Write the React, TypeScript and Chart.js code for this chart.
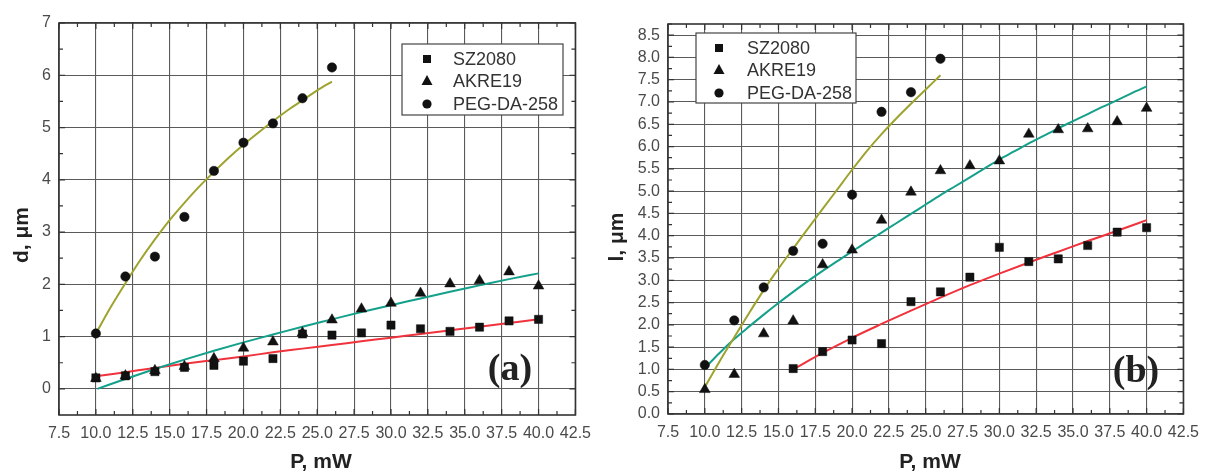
import React, { useEffect, useRef } from 'react';
import { Chart, registerables } from 'chart.js';
Chart.register(...registerables);

// ---------- Panel (a): d, µm ----------
const xEven = [10, 12, 14, 16, 18, 20, 22, 24, 26, 28, 30, 32, 34, 36, 38, 40];
const dSZ2080 = [0.21, 0.25, 0.33, 0.41, 0.45, 0.53, 0.58, 1.05, 1.03, 1.07, 1.22, 1.15, 1.1, 1.18, 1.3, 1.33];
const dAKRE19 = [0.2, 0.25, 0.35, 0.43, 0.58, 0.78, 0.9, 1.07, 1.32, 1.53, 1.64, 1.83, 2.01, 2.07, 2.24, 1.97];
const xPEG = [10, 12, 14, 16, 18, 20, 22, 24, 26];
const dPEG = [1.06, 2.15, 2.53, 3.29, 4.17, 4.71, 5.08, 5.56, 6.15];

const fitXa1 = [10, 11, 12, 13, 14, 15, 16, 17, 18, 19, 20, 21, 22, 23, 24, 25, 26];
const dFitPEG = [1.06, 1.56, 2.02, 2.46, 2.86, 3.23, 3.56, 3.87, 4.15, 4.42, 4.67, 4.9, 5.12, 5.33, 5.52, 5.71, 5.88];
const fitXa2 = [10.1, 12, 14, 16, 18, 20, 22, 24, 26, 28, 30, 32, 34, 36, 38, 40];
const dFitAKRE = [0.0, 0.19, 0.38, 0.56, 0.73, 0.89, 1.04, 1.19, 1.33, 1.47, 1.6, 1.73, 1.86, 1.98, 2.1, 2.21];
const dFitSZ = [0.24, 0.32, 0.4, 0.48, 0.55, 0.62, 0.7, 0.77, 0.84, 0.91, 0.98, 1.05, 1.12, 1.19, 1.26, 1.33];

// ---------- Panel (b): l, µm ----------
const xSZb = [16, 18, 20, 22, 24, 26, 28, 30, 32, 34, 36, 38, 40];
const lSZ2080 = [1.02, 1.4, 1.66, 1.58, 2.52, 2.74, 3.07, 3.74, 3.42, 3.48, 3.78, 4.08, 4.18];
const lAKRE19 = [0.55, 0.89, 1.8, 2.09, 3.35, 3.68, 4.35, 4.98, 5.46, 5.57, 5.68, 6.28, 6.38, 6.4, 6.56, 6.86];
const lPEG = [1.1, 2.1, 2.84, 3.66, 3.82, 4.92, 6.78, 7.22, 7.97];

const fitXb1 = [10, 11, 12, 13, 14, 15, 16, 17, 18, 19, 20, 21, 22, 23, 24, 25, 26];
const lFitPEG = [0.6, 1.18, 1.72, 2.26, 2.78, 3.26, 3.71, 4.16, 4.6, 5.04, 5.48, 5.9, 6.28, 6.63, 6.96, 7.28, 7.6];
const fitXb2 = [10, 11, 12, 13, 14, 15, 16, 17, 18, 19, 20, 21, 22, 23, 24, 25, 26, 27, 28, 29, 30, 31, 32, 33, 34, 35, 36, 37, 38, 39, 40];
const lFitAKRE = [1.03, 1.37, 1.68, 1.96, 2.23, 2.49, 2.74, 2.98, 3.21, 3.43, 3.65, 3.86, 4.07, 4.28, 4.49, 4.7, 4.91, 5.11, 5.31, 5.51, 5.71, 5.89, 6.07, 6.24, 6.41, 6.57, 6.73, 6.89, 7.04, 7.2, 7.35];
const fitXb3 = [16, 18, 20, 22, 24, 26, 28, 30, 32, 34, 36, 38, 40];
const lFitSZ = [1.0, 1.37, 1.71, 2.02, 2.32, 2.61, 2.89, 3.15, 3.4, 3.64, 3.88, 4.11, 4.35];

const xTicks = [7.5, 10, 12.5, 15, 17.5, 20, 22.5, 25, 27.5, 30, 32.5, 35, 37.5, 40, 42.5];
const yTicksA = [0, 1, 2, 3, 4, 5, 6, 7];
const yTicksB = [0, 0.5, 1, 1.5, 2, 2.5, 3, 3.5, 4, 4.5, 5, 5.5, 6, 6.5, 7, 7.5, 8, 8.5];
const seriesNames = ['SZ2080', 'AKRE19', 'PEG-DA-258'];

const OLIVE = '#9ea32e';
const TEAL = '#14a08a';
const RED = '#f0323c';
const SANS = '"Liberation Sans", Arial, sans-serif';

const zip = (xs: number[], ys: number[]) => ys.map((y, i) => ({ x: xs[i], y }));

function drawShape(ctx: CanvasRenderingContext2D, shape: string, x: number, y: number) {
  ctx.fillStyle = '#111';
  ctx.beginPath();
  if (shape === 'rect') ctx.rect(x - 4, y - 4, 8, 8);
  else if (shape === 'triangle') {
    ctx.moveTo(x, y - 6);
    ctx.lineTo(x + 5.5, y + 4);
    ctx.lineTo(x - 5.5, y + 4);
    ctx.closePath();
  } else ctx.arc(x, y, 4.6, 0, Math.PI * 2);
  ctx.fill();
}

interface Decor {
  yMajor: number;
  yMin: number;
  yMax: number;
  yTitle: string;
  yTitlePos: [number, number];
  xTitlePos: [number, number];
  legendBox: [number, number, number, number];
  legendMarkerX: number;
  legendTextX: number;
  legendRows: number[];
  panel: string;
  panelPos: [number, number];
}

function decorPlugin(d: Decor) {
  return {
    id: 'decor',
    afterDraw(chart: any) {
      const ctx: CanvasRenderingContext2D = chart.ctx;
      const { left, right, top, bottom } = chart.chartArea;
      const xs = chart.scales.x;
      const ys = chart.scales.y;
      ctx.save();
      // frame
      ctx.strokeStyle = '#333';
      ctx.lineWidth = 1.6;
      ctx.strokeRect(left, top, right - left, bottom - top);
      // inward ticks
      ctx.lineWidth = 1.2;
      ctx.beginPath();
      for (let v = 7.5; v <= 42.5 + 1e-6; v += 1.25) {
        const px = xs.getPixelForValue(v);
        const major = Math.abs((v / 2.5) - Math.round(v / 2.5)) < 1e-6;
        const len = major ? 6 : 4;
        ctx.moveTo(px, bottom);
        ctx.lineTo(px, bottom - len);
        ctx.moveTo(px, top);
        ctx.lineTo(px, top + len);
      }
      const half = d.yMajor / 2;
      for (let v = 0; v <= d.yMax + 1e-6; v += half) {
        if (v < d.yMin) continue;
        const py = ys.getPixelForValue(v);
        const major = Math.abs(v / d.yMajor - Math.round(v / d.yMajor)) < 1e-6;
        const len = major ? 6 : 4;
        ctx.moveTo(left, py);
        ctx.lineTo(left + len, py);
        ctx.moveTo(right, py);
        ctx.lineTo(right - len, py);
      }
      ctx.stroke();

      // legend
      const [bx, by, bw, bh] = d.legendBox;
      ctx.fillStyle = '#fff';
      ctx.fillRect(bx, by, bw, bh);
      ctx.strokeStyle = '#444';
      ctx.lineWidth = 1.2;
      ctx.strokeRect(bx, by, bw, bh);
      const shapes = ['rect', 'triangle', 'circle'];
      ctx.font = `18px ${SANS}`;
      ctx.textBaseline = 'middle';
      ctx.textAlign = 'left';
      d.legendRows.forEach((ry, i) => {
        drawShape(ctx, shapes[i], d.legendMarkerX, ry);
        ctx.fillStyle = '#333';
        ctx.fillText(seriesNames[i], d.legendTextX, ry + 1);
      });

      // axis titles
      ctx.fillStyle = '#222';
      ctx.font = `bold 21px ${SANS}`;
      ctx.textAlign = 'center';
      ctx.fillText('P, mW', d.xTitlePos[0], d.xTitlePos[1]);
      ctx.save();
      ctx.translate(d.yTitlePos[0], d.yTitlePos[1]);
      ctx.rotate(-Math.PI / 2);
      ctx.fillText(d.yTitle, 0, 0);
      ctx.restore();

      // panel label
      ctx.font = `bold 38px "Liberation Serif", "Times New Roman", serif`;
      ctx.fillStyle = '#222';
      ctx.fillText(d.panel, d.panelPos[0], d.panelPos[1]);
      ctx.restore();
    },
  };
}

function buildConfig(opts: {
  sz: { x: number; y: number }[];
  ak: { x: number; y: number }[];
  peg: { x: number; y: number }[];
  fitPeg: { x: number; y: number }[];
  fitAk: { x: number; y: number }[];
  fitSz: { x: number; y: number }[];
  yMin: number;
  yMax: number;
  yTicks: number[];
  yDecimals: number;
  yWidth: number;
  padTop: number;
  xHeight: number;
  decor: Decor;
}) {
  const fitStyle = (color: string) => ({
    showLine: true,
    borderColor: color,
    borderWidth: 2,
    pointRadius: 0,
    pointHoverRadius: 0,
    cubicInterpolationMode: 'monotone' as const,
    fill: false,
  });
  const markStyle = (shape: string, r: number) => ({
    showLine: false,
    pointStyle: shape,
    pointRadius: r,
    pointBackgroundColor: '#111',
    pointBorderColor: '#111',
    pointBorderWidth: 0.5,
  });
  return {
    type: 'scatter' as const,
    data: {
      datasets: [
        { label: 'fitSZ', data: opts.fitSz, ...fitStyle(RED), order: 5 },
        { label: 'fitAK', data: opts.fitAk, ...fitStyle(TEAL), order: 4 },
        { label: 'fitPEG', data: opts.fitPeg, ...fitStyle(OLIVE), order: 3 },
        { label: 'SZ2080', data: opts.sz, ...markStyle('rect', 5.8), order: 2 },
        { label: 'AKRE19', data: opts.ak, ...markStyle('triangle', 6.2), order: 1 },
        { label: 'PEG-DA-258', data: opts.peg, ...markStyle('circle', 4.7), order: 0 },
      ],
    },
    options: {
      animation: false as const,
      responsive: false,
      maintainAspectRatio: false,
      layout: { padding: { left: 0, top: opts.padTop, right: 16, bottom: 0 } },
      plugins: { legend: { display: false }, tooltip: { enabled: false } },
      scales: {
        x: {
          type: 'linear' as const,
          min: 7.5,
          max: 42.5,
          afterBuildTicks: (s: any) => {
            s.ticks = xTicks.map((v) => ({ value: v }));
          },
          afterFit: (s: any) => {
            s.height = opts.xHeight;
          },
          grid: { color: '#5a5a5a', lineWidth: 1.1, drawTicks: false },
          border: { display: false },
          ticks: {
            autoSkip: false,
            maxRotation: 0,
            padding: 9,
            color: '#4a4a4a',
            font: { family: SANS, size: 16 },
            callback: (v: any) => Number(v).toFixed(1),
          },
        },
        y: {
          type: 'linear' as const,
          min: opts.yMin,
          max: opts.yMax,
          afterBuildTicks: (s: any) => {
            s.ticks = opts.yTicks.map((v) => ({ value: v }));
          },
          afterFit: (s: any) => {
            s.width = opts.yWidth;
          },
          grid: { color: '#5a5a5a', lineWidth: 1.1, drawTicks: false },
          border: { display: false },
          ticks: {
            autoSkip: false,
            padding: 8,
            color: '#4a4a4a',
            font: { family: SANS, size: 16 },
            callback: (v: any) => Number(v).toFixed(opts.yDecimals),
          },
        },
      },
    },
    plugins: [decorPlugin(opts.decor)],
  };
}

function Panel(props: { width: number; left: number; config: any }) {
  const ref = useRef<HTMLCanvasElement>(null);
  useEffect(() => {
    if (!ref.current) return;
    const chart = new Chart(ref.current, props.config);
    return () => chart.destroy();
  }, []);
  return (
    <canvas
      ref={ref}
      width={props.width}
      height={473}
      style={{ position: 'absolute', left: props.left, top: 0, width: props.width, height: 473 }}
    />
  );
}

export default function App() {
  const configA = buildConfig({
    sz: zip(xEven, dSZ2080),
    ak: zip(xEven, dAKRE19),
    peg: zip(xPEG, dPEG),
    fitPeg: zip(fitXa1, dFitPEG),
    fitAk: zip(fitXa2, dFitAKRE),
    fitSz: zip(xEven, dFitSZ),
    yMin: -0.5,
    yMax: 7,
    yTicks: yTicksA,
    yDecimals: 0,
    yWidth: 59,
    padTop: 23,
    xHeight: 58,
    decor: {
      yMajor: 1,
      yMin: -0.5,
      yMax: 7,
      yTitle: 'd, \u03bcm',
      yTitlePos: [22, 235],
      xTitlePos: [321, 462],
      legendBox: [402, 44, 161, 71],
      legendMarkerX: 427,
      legendTextX: 453,
      legendRows: [59, 81, 104],
      panel: '(a)',
      panelPos: [510, 370],
    },
  });
  const configB = buildConfig({
    sz: zip(xSZb, lSZ2080),
    ak: zip(xEven, lAKRE19),
    peg: zip(xPEG, lPEG),
    fitPeg: zip(fitXb1, lFitPEG),
    fitAk: zip(fitXb2, lFitAKRE),
    fitSz: zip(fitXb3, lFitSZ),
    yMin: 0,
    yMax: 8.75,
    yTicks: yTicksB,
    yDecimals: 1,
    yWidth: 68,
    padTop: 24,
    xHeight: 59,
    decor: {
      yMajor: 0.5,
      yMin: 0,
      yMax: 8.75,
      yTitle: 'l, \u03bcm',
      yTitlePos: [17, 237],
      xTitlePos: [330, 462],
      legendBox: [96, 33, 160, 70],
      legendMarkerX: 119,
      legendTextX: 147,
      legendRows: [48, 70, 93],
      panel: '(b)',
      panelPos: [536, 372],
    },
  });
  return (
    <div style={{ position: 'absolute', left: 0, top: 0, width: 1208, height: 473, background: '#fff' }}>
      <Panel width={600} left={0} config={configA} />
      <Panel width={608} left={600} config={configB} />
    </div>
  );
}
